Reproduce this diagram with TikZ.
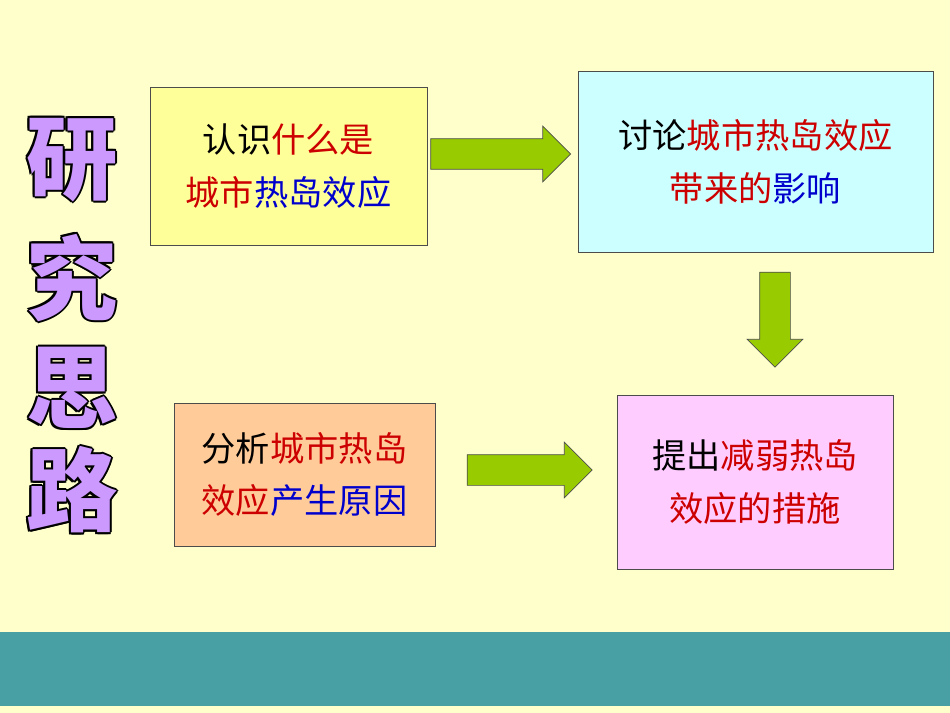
\documentclass[tikz,border=0pt]{standalone}
\usepackage{fontspec}
\newfontfamily\cjk{Noto Sans CJK SC}
\usetikzlibrary{positioning, shapes.arrows}
\definecolor{bgyellow}{RGB}{255,255,204}
\definecolor{band}{RGB}{72,160,164}
\definecolor{boxa}{RGB}{255,255,153}
\definecolor{boxb}{RGB}{204,255,255}
\definecolor{boxc}{RGB}{255,204,153}
\definecolor{boxd}{RGB}{255,204,255}
\definecolor{arrowgreen}{RGB}{153,204,0}
\definecolor{titlepurple}{RGB}{204,153,255}
\definecolor{tred}{RGB}{204,0,0}
\definecolor{tblue}{RGB}{0,0,204}
\begin{document}
\begin{tikzpicture}[x=0.02cm, y=-0.02cm,
    every node/.style={font=\cjk\fontsize{19.5}{30}\selectfont, align=center},
    stepbox/.style={draw=black!70, thin, inner sep=0pt},
    bigarrow/.style={single arrow, draw=black!70, fill=arrowgreen, inner sep=0.3cm,
        single arrow head extend=0.25cm, single arrow tip angle=90},
    title/.style={font=\cjk\bfseries\fontsize{52}{52}\selectfont, text=titlepurple}]

\fill[bgyellow] (0,0) rectangle (950,713);
\fill[band] (0,632) rectangle (950,706);

% boxes
\node[stepbox, fill=boxa, minimum width=5.54cm, minimum height=3.16cm] (what) at (288.5,166)
    {认识\textcolor{tred}{什么是}\\\textcolor{tred}{城市}\textcolor{tblue}{热岛效应}};
\node[stepbox, fill=boxb, minimum width=7.1cm, minimum height=3.62cm] (effect) at (755.5,161.5)
    {讨论\textcolor{tred}{城市热岛效应}\\\textcolor{tred}{带来的}\textcolor{tblue}{影响}};
\node[stepbox, fill=boxc, minimum width=5.22cm, minimum height=2.86cm] (cause) at (304.5,474.5)
    {分析\textcolor{tred}{城市热岛}\\\textcolor{tred}{效应}\textcolor{tblue}{产生原因}};
\node[stepbox, fill=boxd, minimum width=5.52cm, minimum height=3.48cm] (measure) at (755,482)
    {提出\textcolor{tred}{减弱热岛}\\\textcolor{tred}{效应的措施}};

% arrows
\node[bigarrow, minimum height=2.8cm] (arr1) at (493,154) {};
\node[bigarrow, minimum height=1.9cm, shape border rotate=270] (arr2) at (775,312) {};
\node[bigarrow, minimum height=2.5cm] (arr3) at (522,470) {};

% title
\foreach \c/\y [count=\i] in {研/160, 究/278, 思/388, 路/490} {
    \foreach \dx/\dy in {-2/0, 2/0, 0/-2, 0/2, -1.5/-1.5, 1.5/1.5, -1.5/1.5, 1.5/-1.5}
        \node[title, text=black] at (72+\dx,\y+\dy) {\c};
    \node[title] (t\i) at (72,\y) {\c};
}
\end{tikzpicture}
\end{document}
